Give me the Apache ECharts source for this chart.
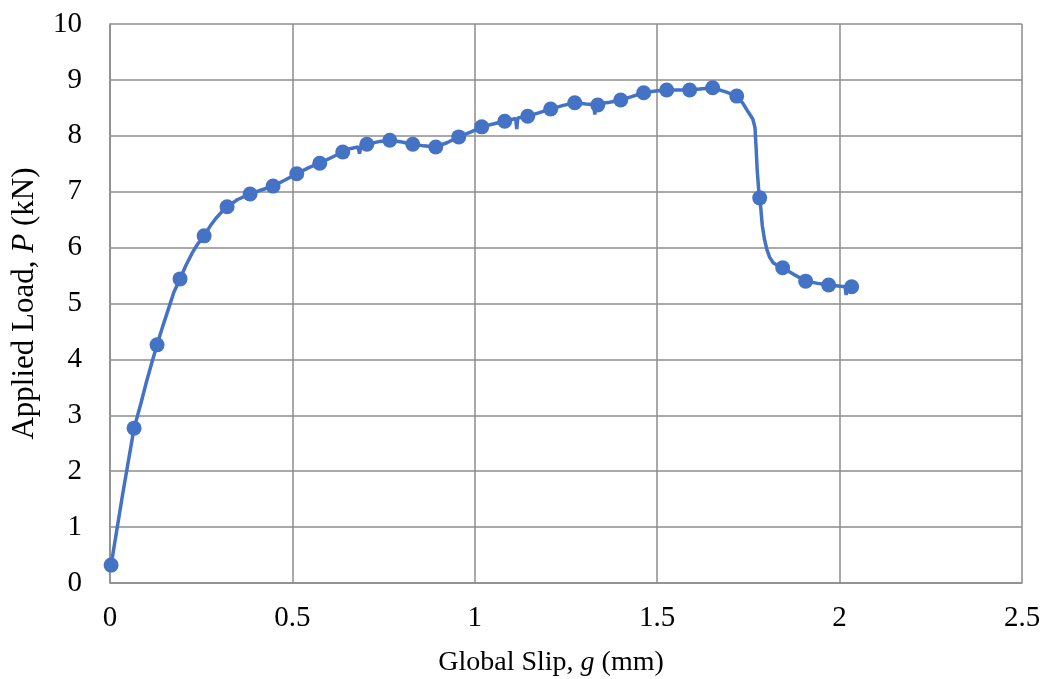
<!DOCTYPE html>
<html><head><meta charset="utf-8">
<script src="https://cdn.jsdelivr.net/npm/echarts@6/dist/echarts.min.js"></script>
<style>html,body{margin:0;padding:0;background:#fff}#c{width:1047px;height:679px}</style>
</head><body><div id="c"></div>
<script>
// Marker points (slip mm, load kN)
const markerSlip = [0.003,0.066,0.129,0.192,0.258,0.321,0.384,0.447,0.512,0.575,0.638,0.704,0.767,0.830,0.893,0.956,1.019,1.082,1.145,1.208,1.274,1.337,1.400,1.463,1.526,1.589,1.652,1.718,1.781,1.844,1.907,1.970,2.033];
const markerLoad = [0.32,2.77,4.26,5.44,6.21,6.73,6.96,7.10,7.32,7.51,7.71,7.85,7.92,7.85,7.80,7.98,8.16,8.26,8.35,8.48,8.59,8.55,8.64,8.77,8.82,8.82,8.86,8.71,6.89,5.64,5.40,5.33,5.30];
// Full measured curve
const curveSlip = [0.003,0.035,0.066,0.085,0.10,0.115,0.129,0.145,0.16,0.175,0.192,0.208,0.225,0.24,0.258,0.275,0.29,0.305,0.321,0.35,0.384,0.415,0.447,0.48,0.512,0.545,0.575,0.61,0.638,0.645,0.647,0.65,0.68,0.684,0.688,0.704,0.74,0.767,0.80,0.830,0.86,0.893,0.925,0.956,0.99,1.019,1.05,1.082,1.112,1.115,1.118,1.145,1.175,1.208,1.24,1.274,1.305,1.326,1.329,1.332,1.337,1.37,1.400,1.43,1.463,1.495,1.526,1.589,1.652,1.69,1.718,1.735,1.75,1.762,1.768,1.771,1.774,1.778,1.781,1.784,1.788,1.794,1.80,1.808,1.818,1.83,1.844,1.875,1.907,1.94,1.970,2.015,2.018,2.021,2.033];
const curveLoad = [0.32,1.6,2.77,3.22,3.6,3.95,4.26,4.6,4.9,5.2,5.44,5.68,5.9,6.06,6.21,6.39,6.52,6.63,6.73,6.86,6.96,7.03,7.10,7.21,7.32,7.43,7.51,7.62,7.71,7.74,7.60,7.76,7.80,7.68,7.82,7.85,7.90,7.92,7.89,7.85,7.82,7.80,7.88,7.98,8.07,8.16,8.21,8.26,8.31,8.12,8.32,8.35,8.41,8.48,8.54,8.59,8.57,8.56,8.38,8.57,8.55,8.60,8.64,8.70,8.77,8.80,8.82,8.82,8.86,8.78,8.71,8.58,8.42,8.30,8.15,7.8,7.4,7.05,6.89,6.7,6.4,6.15,5.98,5.83,5.73,5.68,5.64,5.52,5.40,5.36,5.33,5.30,5.15,5.30,5.30];
const xTicks = [0,0.5,1,1.5,2,2.5];
const yTicks = [0,1,2,3,4,5,6,7,8,9,10];

const font = '"Liberation Serif", "Times New Roman", serif';
const gridColor = '#8c8c8c';
const blue = '#4472C4';
const chart = echarts.init(document.getElementById('c'), null, {renderer:'canvas'});
chart.setOption({
  animation:false,
  backgroundColor:'#fff',
  grid:{left:110,right:25,top:24,bottom:96,containLabel:false,outerBoundsMode:'none'},
  xAxis:{type:'value',min:xTicks[0],max:xTicks[xTicks.length-1],interval:0.5,
    axisLine:{show:true,onZero:false,lineStyle:{color:gridColor,width:1.5}},
    axisTick:{show:false},
    splitLine:{show:true,lineStyle:{color:gridColor,width:1.5}},
    axisLabel:{color:'#000',fontFamily:font,fontSize:29,margin:21,formatter:v=>String(v)},
    name:'{n|Global Slip, }{i|g}{n| (mm)}',nameLocation:'middle',nameGap:66,
    nameTextStyle:{padding:[0,30,0,0],rich:{n:{fontFamily:font,fontSize:28,color:'#000'},i:{fontFamily:font,fontSize:28,fontStyle:'italic',color:'#000'}}}
  },
  yAxis:{type:'value',min:yTicks[0],max:yTicks[yTicks.length-1],interval:1,
    axisLine:{show:true,lineStyle:{color:gridColor,width:1.5}},
    axisTick:{show:false},
    splitLine:{show:true,lineStyle:{color:gridColor,width:1.5}},
    axisLabel:{color:'#000',fontFamily:font,fontSize:29,margin:28},
    name:'{n|Applied Load, }{i|P}{n| (kN)}',nameLocation:'middle',nameGap:70,nameRotate:90,
    nameTextStyle:{rich:{n:{fontFamily:font,fontSize:31,color:'#000'},i:{fontFamily:font,fontSize:31,fontStyle:'italic',color:'#000'}}}
  },
  series:[
    {type:'line',data:curveSlip.map((x,i)=>[x,curveLoad[i]]),showSymbol:false,symbol:'none',
     lineStyle:{color:blue,width:3.5},z:2},
    {type:'scatter',data:markerSlip.map((x,i)=>[x,markerLoad[i]]),symbol:'circle',symbolSize:15,
     itemStyle:{color:blue,opacity:1},z:3}
  ]
});
</script></body></html>
